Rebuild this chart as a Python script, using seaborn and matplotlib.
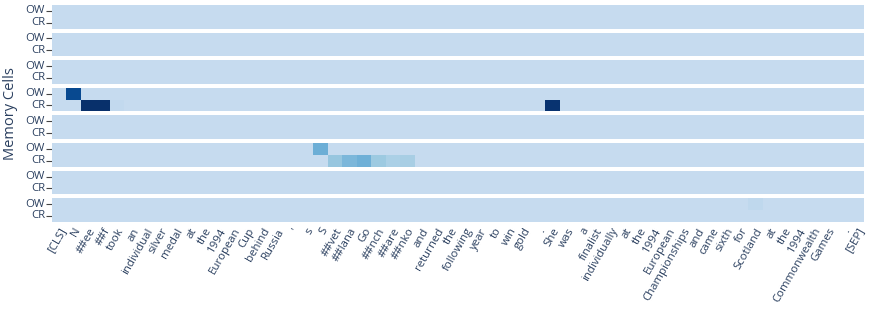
import numpy as np
import pandas as pd
import matplotlib
matplotlib.use("Agg")
import matplotlib.pyplot as plt
import seaborn as sns

# Tokens along the x axis
tokens = ["[CLS]", "N", "##ee", "##f", "took", "an", "individual", "silver", "medal",
          "at", "the", "1994", "European", "Cup", "behind", "Russia", "'", "s", "S",
          "##vet", "##lana", "Go", "##nch", "##are", "##nko", "and", "returned", "the",
          "following", "year", "to", "win", "gold", ".", "She", "was", "a", "finalist",
          "individually", "at", "the", "1994", "European", "Championships", "and", "came",
          "sixth", "for", "Scotland", "at", "the", "1994", "Commonwealth", "Games", ".",
          "[SEP]"]
gate_rows = ["OW", "CR"]
n_cells = 8

# Non-zero weights (memory cell, gate, token, weight)
active_cell = [3, 3, 3, 3, 3, 5, 5, 5, 5, 5, 5, 5, 7]
active_gate = ["OW", "CR", "CR", "CR", "CR", "OW", "CR", "CR", "CR", "CR", "CR", "CR", "OW"]
active_token = [1, 2, 3, 4, 34, 18, 19, 20, 21, 22, 23, 24, 48]
active_value = [0.87, 1.0, 1.0, 0.02, 0.98, 0.33, 0.19, 0.28, 0.32, 0.17, 0.11, 0.13, 0.03]

weights = np.zeros((n_cells, len(gate_rows), len(tokens)))
for c, g, t, v in zip(active_cell, active_gate, active_token, active_value):
    weights[c, gate_rows.index(g), t] = v

sns.set_style("white")
plt.rcParams["font.family"] = ["Open Sans", "DejaVu Sans"]
text_color = "#2a3f5f"

fig, axes = plt.subplots(n_cells, 1, figsize=(8.72, 3.09), dpi=100, sharex=True)
fig.subplots_adjust(left=0.0596, right=0.991, top=0.984, bottom=0.282, hspace=0.17)

for i, ax in enumerate(axes):
    df = pd.DataFrame(weights[i], index=gate_rows, columns=tokens)
    sns.heatmap(df, ax=ax, cmap="Blues", vmin=-1 / 3, vmax=1, cbar=False,
                xticklabels=(i == n_cells - 1), yticklabels=True)
    ax.tick_params(axis="y", length=4, width=0.8, color="#444444", pad=1,
                   labelsize=8.2, labelcolor=text_color, rotation=0, left=True)
    ax.tick_params(axis="x", length=0, pad=3, labelsize=8.2, labelcolor=text_color)
    ax.set_ylabel("")
    ax.set_xlabel("")

for lab in axes[-1].get_xticklabels():
    lab.set_rotation(60)
    lab.set_ha("right")
    lab.set_rotation_mode("anchor")

fig.text(0.012, (0.984 + 0.282) / 2, "Memory Cells", rotation=90, va="center",
         ha="center", fontsize=10.5, color=text_color)

plt.savefig("out.png", dpi=100)
plt.close()
